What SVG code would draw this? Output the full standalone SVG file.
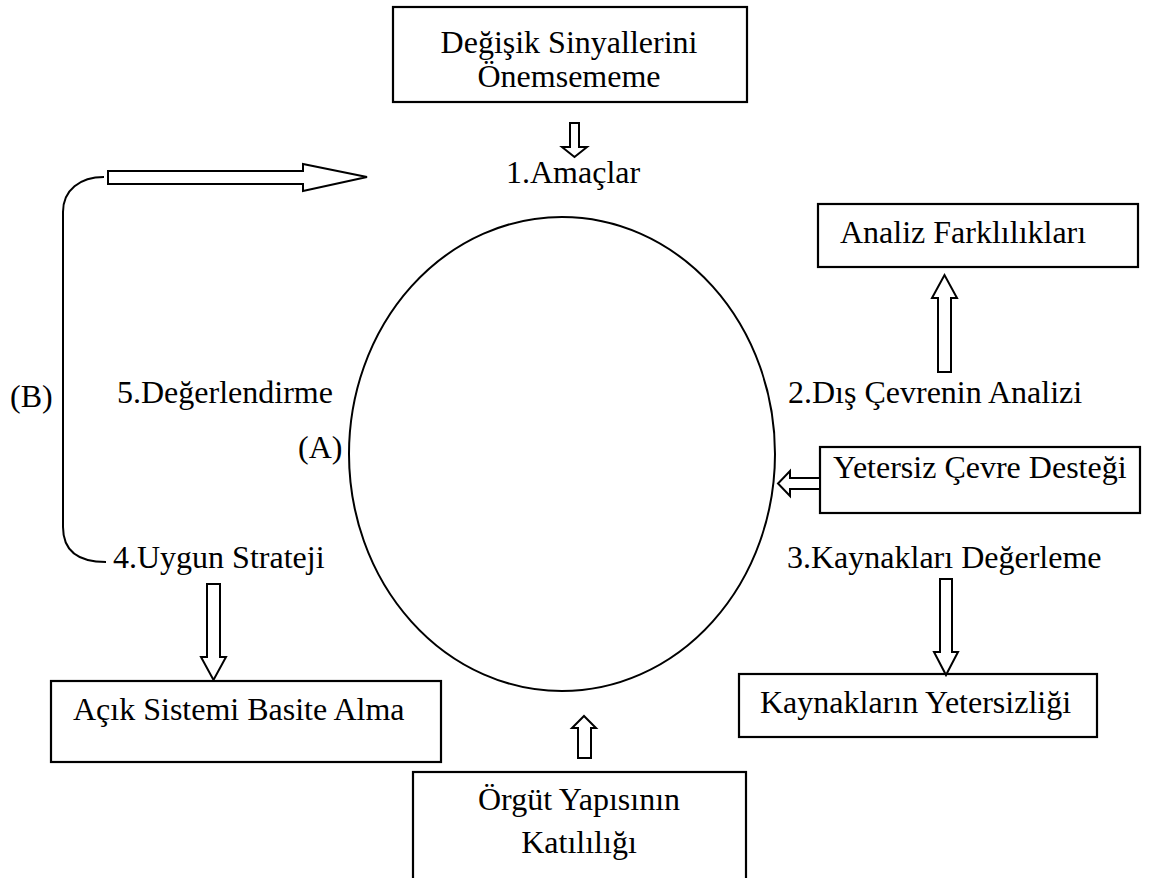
<svg xmlns="http://www.w3.org/2000/svg" width="1149" height="878" viewBox="0 0 1149 878">
  <style>
    .box { fill: #ffffff; stroke: #000000; stroke-width: 2.2; }
    .arrow { fill: #ffffff; stroke: #000000; stroke-width: 2; stroke-linejoin: miter; }
    .line { fill: none; stroke: #000000; stroke-width: 2; }
    text { font-family: "Liberation Serif", "Times New Roman", serif; font-size: 32px; fill: #000000; }
    .mid { text-anchor: middle; }
  </style>
  <rect width="1149" height="878" fill="#ffffff"/>

  <!-- central cycle -->
  <g id="cycle">
    <ellipse cx="562" cy="454" rx="213" ry="237" class="line"/>
    <text x="298" y="458">(A)</text>
  </g>

  <!-- stage labels -->
  <g id="stage1"><text x="506" y="183">1.Amaçlar</text></g>
  <g id="stage2"><text x="788" y="403">2.Dış Çevrenin Analizi</text></g>
  <g id="stage3"><text x="787" y="568">3.Kaynakları Değerleme</text></g>
  <g id="stage4"><text x="113" y="568">4.Uygun Strateji</text></g>
  <g id="stage5"><text x="117" y="403">5.Değerlendirme</text></g>

  <!-- obstacle boxes -->
  <g id="sinyaller">
    <rect x="393" y="7" width="354" height="95" class="box"/>
    <text x="569" y="53" class="mid">Değişik Sinyallerini</text>
    <text x="569" y="87" class="mid">Önemsememe</text>
  </g>
  <g id="analiz">
    <rect x="818" y="204" width="320" height="63" class="box"/>
    <text x="840" y="243">Analiz Farklılıkları</text>
  </g>
  <g id="cevre">
    <rect x="820" y="447" width="320" height="66" class="box"/>
    <text x="833" y="478">Yetersiz Çevre Desteği</text>
  </g>
  <g id="kaynaklar">
    <rect x="739" y="674" width="358" height="63" class="box"/>
    <text x="760" y="713">Kaynakların Yetersizliği</text>
  </g>
  <g id="acik">
    <rect x="51" y="681" width="390" height="81" class="box"/>
    <text x="73" y="720">Açık Sistemi Basite Alma</text>
  </g>
  <g id="orgut">
    <rect x="413" y="772" width="333" height="115" class="box"/>
    <text x="579" y="810" class="mid">Örgüt Yapısının</text>
    <text x="579" y="853" class="mid">Katılılığı</text>
  </g>

  <!-- feedback loop (B) -->
  <g id="loop">
    <text x="10" y="407">(B)</text>
  </g>

  <!-- connectors -->
  <g id="connectors">
    <path class="line" d="M106 562 C 80 562 63 552 63 527 L 63 212 C 63 190 80 177 104 177"/>
    <!-- loop arrow back to goals -->
    <polygon class="arrow" points="108,171 303,171 303,164 367,177 303,191 303,184 108,184"/>
    <!-- signals -> goals -->
    <polygon class="arrow" points="570,123 579,123 579,147 587,147 574.5,157 562,147 570,147"/>
    <!-- environment analysis -> analysis differences -->
    <polygon class="arrow" points="938,372 951,372 951,298 957,298 944.5,275 932,298 938,298"/>
    <!-- weak support -> cycle -->
    <polygon class="arrow" points="820,478 790,478 790,471 778,483.5 790,496 790,489 820,489"/>
    <!-- resource evaluation -> resource shortage -->
    <polygon class="arrow" points="940,579 952,579 952,652 958,652 946,675 934,652 940,652"/>
    <!-- strategy -> open system -->
    <polygon class="arrow" points="207,584 220,584 220,657 226,657 213.5,680 201,657 207,657"/>
    <!-- rigid structure -> cycle -->
    <polygon class="arrow" points="578,758 591,758 591,728 596,728 584,716 572,728 578,728"/>
  </g>
</svg>
